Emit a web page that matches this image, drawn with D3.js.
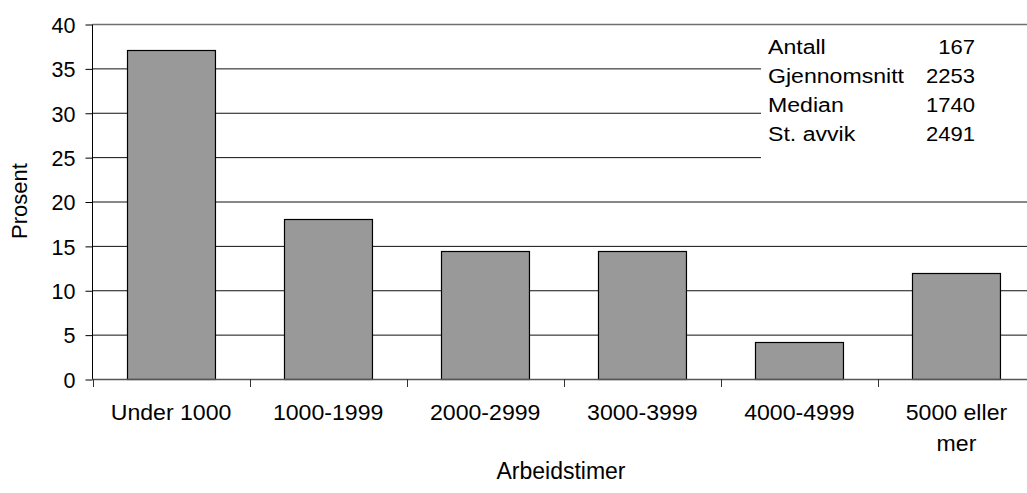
<!DOCTYPE html>
<meta charset="utf-8">
<style>
    body { margin: 0; background: #fff; }
    text { font-family: "Liberation Sans", Arial, sans-serif; fill: #000; }
</style>
<body>
<script src="https://d3js.org/d3.v7.min.js"></script>
<script>

    var categories = [["Under 1000"], ["1000-1999"], ["2000-2999"], ["3000-3999"], ["4000-4999"], ["5000 eller", "mer"]];
    var values = [37.1, 18.0, 14.4, 14.4, 4.2, 12.0];
    var yTicks = [0, 5, 10, 15, 20, 25, 30, 35, 40];
    var statLabels = ["Antall", "Gjennomsnitt", "Median", "St. avvik"];
    var statValues = ["167", "2253", "1740", "2491"];

    var width = 1027,
        height = 493;

    var svg = d3.select("body").append("svg")
        .attr("width", width)
        .attr("height", height);

    var x = d3.scaleBand()
        .domain(d3.range(categories.length))
        .range([92.5, 1035])
        .paddingInner(0.44)
        .paddingOuter(0.22);

    var y = d3.scaleLinear()
        .domain([0, 40])
        .range([379, 24]);

    // gridlines
    svg.append("g").selectAll("line")
        .data(yTicks.filter(function(d) { return d > 0; }))
        .enter().append("line")
        .attr("x1", 92.5).attr("x2", width)
        .attr("y1", function(d) { return y(d) + 0.5; })
        .attr("y2", function(d) { return y(d) + 0.5; })
        .attr("stroke", function(d) { return d == 40 ? "#707070" : "#111"; })
        .attr("stroke-width", function(d) { return d == 40 ? 1.6 : 1; });

    // stats box hides the grid behind it
    svg.append("rect")
        .attr("x", 761).attr("y", 30)
        .attr("width", width - 761).attr("height", 135)
        .attr("fill", "#fff");

    // bars
    svg.append("g").selectAll("rect")
        .data(values)
        .enter().append("rect")
        .attr("x", function(d, i) { return Math.round(x(i)) + 0.5; })
        .attr("y", function(d) { return Math.round(y(d)) + 0.5; })
        .attr("width", x.bandwidth())
        .attr("height", function(d) { return Math.round(y(0)) - Math.round(y(d)); })
        .attr("fill", "#999999")
        .attr("stroke", "#000")
        .attr("stroke-width", 1.2);

    // y axis
    var yAxis = d3.axisLeft(y).tickValues(yTicks).tickSize(7).tickPadding(10);
    var gy = svg.append("g")
        .attr("transform", "translate(92.5,0.5)")
        .call(yAxis);
    gy.select(".domain").attr("stroke", "#000").attr("d", "M0," + y(40) + "V" + y(0));
    gy.selectAll(".tick line").attr("stroke", "#000");
    gy.selectAll(".tick text").style("font-size", "21.5px").attr("dy", "0.36em");

    // x axis
    var xEdges = d3.range(categories.length + 1).map(function(i) {
        return 92.5 + i * (1035 - 92.5) / categories.length;
    });
    svg.append("line")
        .attr("x1", 92.5).attr("x2", width)
        .attr("y1", y(0) + 0.5).attr("y2", y(0) + 0.5)
        .attr("stroke", "#555").attr("stroke-width", 1.6);
    svg.append("g").selectAll("line")
        .data(xEdges)
        .enter().append("line")
        .attr("x1", function(d) { return Math.round(d) + 0.5; })
        .attr("x2", function(d) { return Math.round(d) + 0.5; })
        .attr("y1", y(0)).attr("y2", y(0) + 8)
        .attr("stroke", "#333");

    var xl = svg.append("g").selectAll("text")
        .data(categories)
        .enter().append("text")
        .attr("text-anchor", "middle")
        .style("font-size", "22px")
        .attr("transform", function(d, i) {
            return "translate(" + (x(i) + x.bandwidth() / 2) + ",420) scale(1.05,1)";
        });
    xl.selectAll("tspan")
        .data(function(d) { return d; })
        .enter().append("tspan")
        .attr("x", 0)
        .attr("y", function(d, j) { return j * 31; })
        .text(function(d) { return d; });

    // axis titles
    svg.append("text")
        .attr("transform", "translate(27,201) rotate(-90)")
        .attr("text-anchor", "middle")
        .style("font-size", "22px")
        .text("Prosent");

    svg.append("text")
        .attr("x", 561).attr("y", 479)
        .attr("text-anchor", "middle")
        .style("font-size", "23px")
        .text("Arbeidstimer");

    // stats
    var stats = svg.append("g").style("font-size", "21px");
    stats.selectAll(".lab")
        .data(statLabels)
        .enter().append("text")
        .attr("transform", function(d, i) { return "translate(768," + (54 + i * 29) + ") scale(1.1,1)"; })
        .text(function(d) { return d; });
    stats.selectAll(".val")
        .data(statValues)
        .enter().append("text")
        .attr("text-anchor", "end")
        .attr("transform", function(d, i) { return "translate(975," + (54 + i * 29) + ") scale(1.05,1)"; })
        .text(function(d) { return d; });

</script>
</body>
